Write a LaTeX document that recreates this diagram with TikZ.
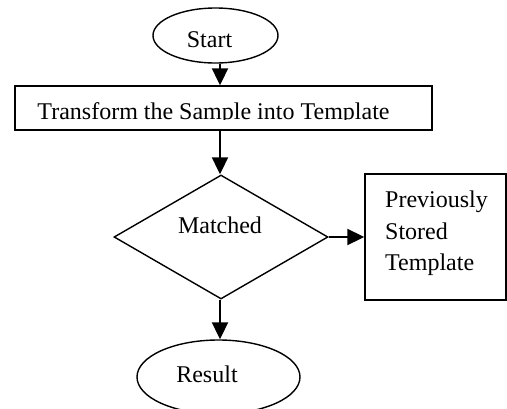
\documentclass[tikz,border=0pt]{standalone}
\usepackage{fontspec}
\setmainfont{Liberation Serif}
\usetikzlibrary{arrows.meta,shapes.geometric}
\begin{document}
\begin{tikzpicture}[x=1pt,y=-1pt,
  shapeline/.style={draw=black,line width=1.4pt},
  ell/.style={shapeline,ellipse,inner sep=0pt},
  box/.style={shapeline,rectangle,inner sep=0pt},
  dia/.style={shapeline,diamond,inner sep=0pt},
  txt/.style={font=\fontsize{24}{31.5}\selectfont,inner sep=0pt,anchor=base},
  arr/.style={line width=2pt,-{Triangle[length=17pt,width=16pt]}}]
\clip (0,0) rectangle (507,408);
\fill[white] (0,0) rectangle (507,408);
% shapes
\node[ell,minimum width=125pt,minimum height=55pt] (start) at (215.5,35.5) {};
\node[box,minimum width=417pt,minimum height=44pt] (trans) at (223.5,108) {};
\node[dia,minimum width=214pt,minimum height=124pt] (match) at (221,237) {};
\node[box,minimum width=141pt,minimum height=126pt] (stored) at (435.5,237) {};
\node[ell,minimum width=163pt,minimum height=74pt] (result) at (218.5,377) {};
% texts
\node[txt] (tstart) at (209.5,47) {Start};
\begin{scope}
\clip (15,86) rectangle (432,119.5);
\node[txt] (ttrans) at (213.5,119) {Transform the Sample into Template};
\end{scope}
\node[txt] (tmatch) at (220,233) {Matched};
\node[txt,anchor=base west] (ts1) at (385,207) {Previously};
\node[txt,anchor=base west] (ts2) at (385,239) {Stored};
\node[txt,anchor=base west] (ts3) at (385,270) {Template};
\node[txt] (tresult) at (207,382) {Result};
% connectors
\coordinate (col) at (220,0);
\draw[arr] (start.south -| col) -- (trans.north -| col);
\draw[arr] (trans.south -| col) -- (match.north -| col);
\draw[arr] (match.east) -- (stored.west);
\draw[arr] (match.south -| col) -- (result.north -| col);
\end{tikzpicture}
\end{document}
